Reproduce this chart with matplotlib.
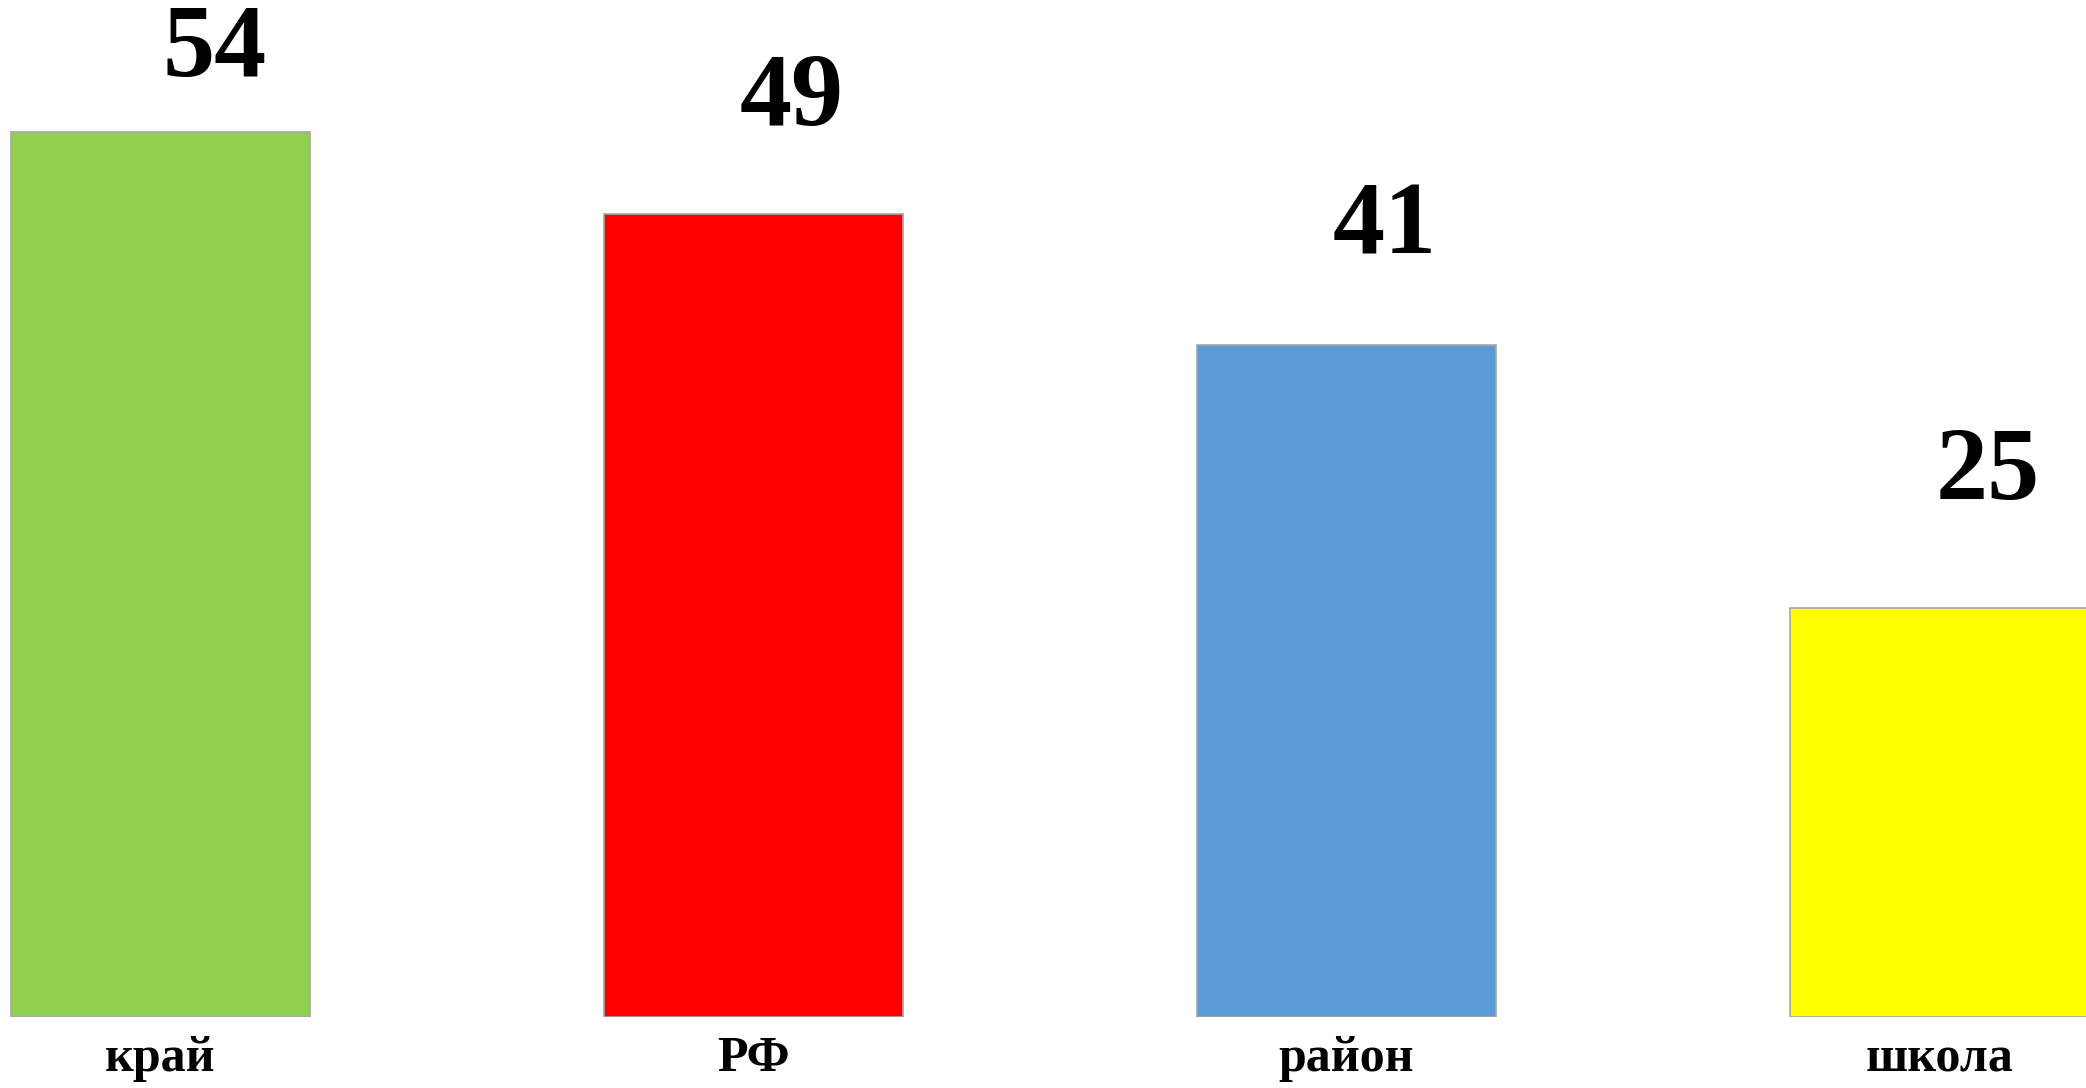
import matplotlib
matplotlib.use("Agg")
import matplotlib.pyplot as plt

categories = ["край", "РФ", "район", "школа"]
values = [54, 49, 41, 25]

colors = ["#92D050", "#FF0000", "#5B9BD5", "#FFFF00"]
label_dx = [54, 38, 38, 48]    # label offsets, pixels
label_dy = [56, 89, 92, 108]

plt.rcParams["font.family"] = ["Liberation Serif", "DejaVu Serif"]

fig = plt.figure(figsize=(20.86, 10.88), dpi=100)
ax = fig.add_axes([0, 71 / 1088, 1, 1017 / 1088])

x = list(range(len(values)))
ax.bar(x, values, width=0.503, color=colors, edgecolor="#a6a6a6", linewidth=1.2)

for xi, v, dx, dy in zip(x, values, label_dx, label_dy):
    ax.annotate(str(v), xy=(xi, v), xytext=(dx, dy), textcoords="offset pixels",
                ha="center", va="baseline", fontsize=75, fontweight="bold")

ax.set_xlim(-160.5 / 593, (2086 - 160.5) / 593)
ax.set_ylim(0, 1017 / 16.38)
ax.set_xticks(x)
ax.set_xticklabels(categories, fontsize=36, fontweight="bold")
ax.tick_params(axis="x", length=0, pad=14)
ax.set_yticks([])
for s in ax.spines.values():
    s.set_visible(False)

fig.savefig("out.png", dpi=100)
